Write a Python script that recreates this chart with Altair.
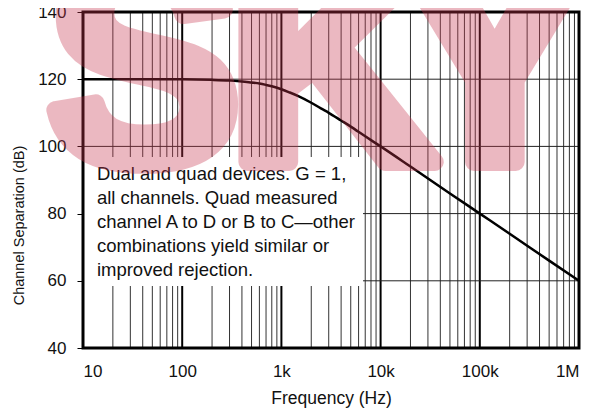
import altair as alt
import pandas as pd

# curve
freq = [10, 100, 200, 300, 400, 500, 600, 700, 800, 1000, 1200, 1500, 2000,
        2500, 3000, 4000, 5000, 7000, 10000, 20000, 50000, 100000, 200000,
        500000, 1000000]
sep = [120, 119.96, 119.8, 119.6, 119.35, 119.0, 118.7, 118.3, 117.9, 117.0,
       116.1, 114.9, 113.0, 111.3, 110.0, 107.7, 105.9, 103.0, 100.0, 94.0,
       86.0, 80.0, 74.0, 66.0, 60.0]

tick_vals = [10, 100, 1000, 10000, 100000, 1000000]
tick_labels = ["10", "100", "1k", "10k", "100k", "1M"]
y_ticks = [40, 60, 80, 100, 120, 140]
major_x = [100, 1000, 10000, 100000]
minor_x = [m * d for d in [10, 100, 1000, 10000, 100000] for m in range(2, 10)]
h_grid = [60, 80, 100, 120]

note_lines = ["Dual and quad devices. G = 1,",
              "all channels. Quad measured",
              "channel A to D or B to C\u2014other",
              "combinations yield similar or",
              "improved rejection."]

wm_letters = ["S", "K", "Y"]
wm_x = [-36, 145, 315]

FONT = "Liberation Sans"
W, H = 496, 336

xs = alt.Scale(type="log", domain=[10, 1000000], nice=False)
ys = alt.Scale(domain=[40, 140], nice=False)

label_expr = " : ".join(
    f"datum.value == {v} ? '{l}'" for v, l in zip(tick_vals, tick_labels)) + " : ''"

xaxis = alt.Axis(values=tick_vals, labelExpr=label_expr, grid=False, ticks=False,
                 domain=False, labelFont=FONT, labelFontSize=17, labelColor="#111",
                 labelPadding=15, title="Frequency (Hz)", titleFont=FONT,
                 titleFontSize=17.5, titleFontWeight="normal", titleColor="#111",
                 titlePadding=10)
yaxis = alt.Axis(values=y_ticks, grid=False, ticks=True, tickSize=6, tickColor="black",
                 domain=False, labelFont=FONT, labelFontSize=17, labelColor="#111",
                 labelPadding=11, title="Channel Separation (dB)", titleFont=FONT,
                 titleFontSize=14.5, titleFontWeight="normal", titleColor="#111",
                 titlePadding=11, titleY=213)

curve_df = pd.DataFrame({"f": freq, "db": sep})

base_axes = alt.Chart(curve_df).mark_line(opacity=0).encode(
    x=alt.X("f:Q", scale=xs, axis=xaxis),
    y=alt.Y("db:Q", scale=ys, axis=yaxis),
)

minor = alt.Chart(pd.DataFrame({"f": minor_x})).mark_rule(color="#333", strokeWidth=1).encode(
    x=alt.X("f:Q", scale=xs))
major = alt.Chart(pd.DataFrame({"f": major_x})).mark_rule(color="black", strokeWidth=2).encode(
    x=alt.X("f:Q", scale=xs))
hgrid = alt.Chart(pd.DataFrame({"db": h_grid})).mark_rule(color="#222", strokeWidth=1).encode(
    y=alt.Y("db:Q", scale=ys))

box = alt.Chart(pd.DataFrame({"f1": [10.2], "f2": [6650], "d1": [96.85], "d2": [58.45]})).mark_rect(
    color="white").encode(
    x=alt.X("f1:Q", scale=xs), x2="f2:Q",
    y=alt.Y("d1:Q", scale=ys), y2="d2:Q")

note = alt.Chart(pd.DataFrame({"f": [13.8], "d": [94.6]})).mark_text(
    text=note_lines, align="left", baseline="top", font=FONT, fontSize=18.5,
    lineHeight=24, color="#111").encode(
    x=alt.X("f:Q", scale=xs), y=alt.Y("d:Q", scale=ys))

line = alt.Chart(curve_df).mark_line(color="black", strokeWidth=2.5, interpolate="monotone").encode(
    x=alt.X("f:Q", scale=xs), y=alt.Y("db:Q", scale=ys))

border = alt.Chart(pd.DataFrame({"a": [0]})).mark_rect(
    filled=False, stroke="black", strokeWidth=3).encode(
    x=alt.value(0), x2=alt.value(W), y=alt.value(0), y2=alt.value(H))

wm_layers = [
    alt.Chart(pd.DataFrame({"a": [0]})).mark_text(
        text=ch, font=FONT, fontWeight="bold", fontSize=290, fill="#c8374f",
        stroke="#c8374f", strokeWidth=18, strokeJoin="round",
        opacity=0.35, align="left", baseline="alphabetic").encode(
        x=alt.value(px), y=alt.value(150))
    for ch, px in zip(wm_letters, wm_x)
]

chart = alt.layer(base_axes, minor, major, hgrid, box, note, line, border, *wm_layers).properties(
    width=W, height=H,
    autosize=alt.AutoSizeParams(type="none"),
    padding={"left": 75, "top": 4, "right": 7, "bottom": 61},
).configure_view(stroke=None).configure(background="white")

chart.save("out.html", embed_options={"renderer": "svg", "actions": False})
